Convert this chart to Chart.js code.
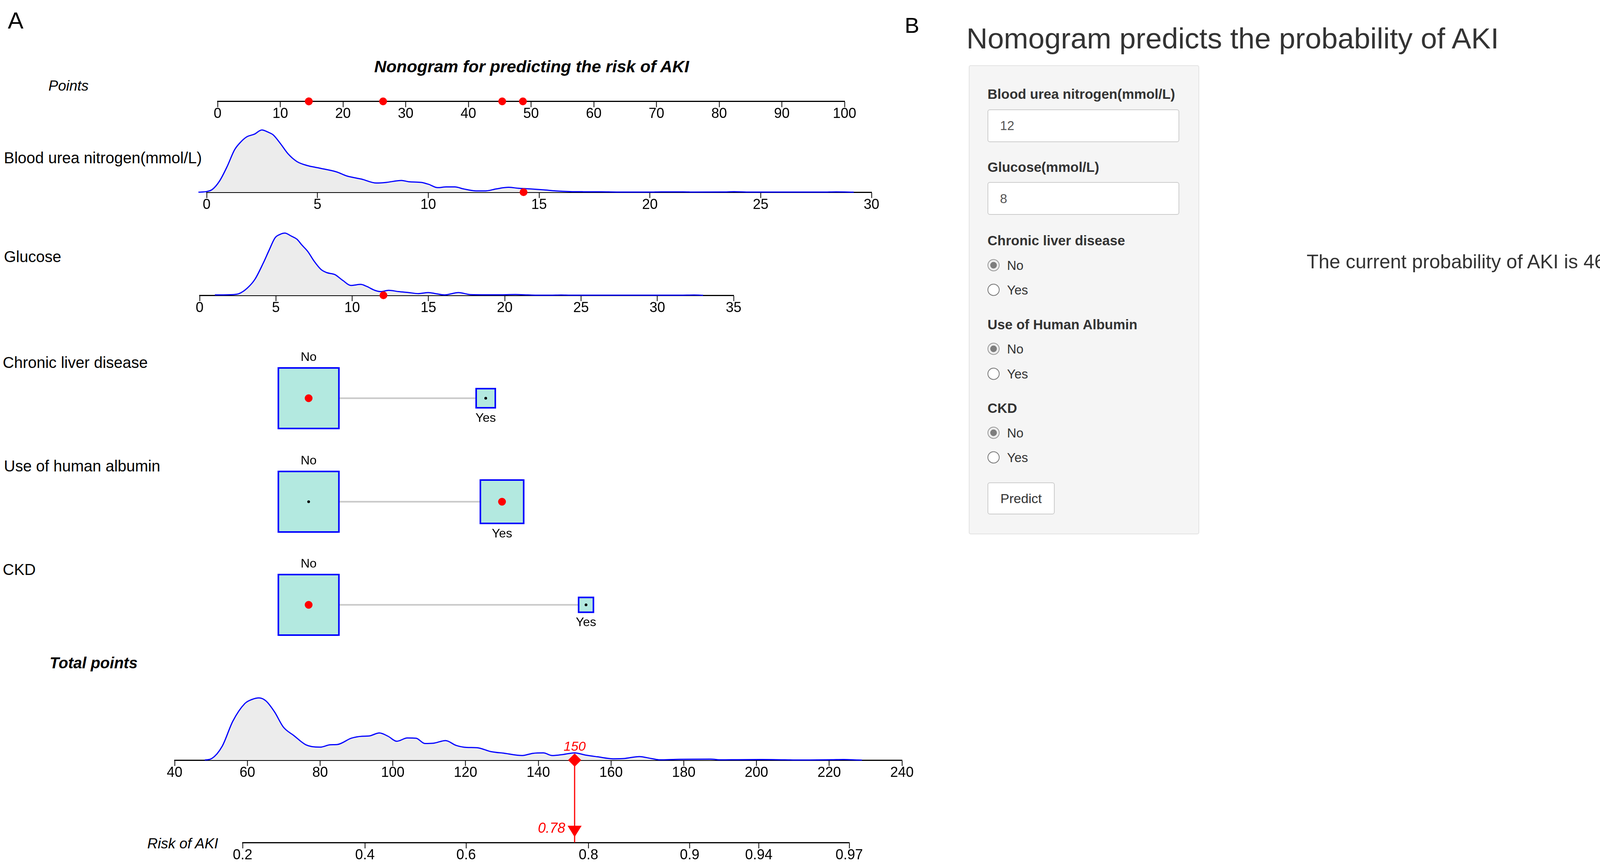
<!DOCTYPE html>
<html>
<head>
<meta charset="utf-8">
<title>Nomogram for AKI</title>
<script src="https://cdn.jsdelivr.net/npm/chart.js@4.4.1/dist/chart.umd.min.js"></script>
<style>
  html, body { margin: 0; padding: 0; background: #fff; }
  #stage { position: relative; width: 4212px; height: 2212px; overflow: hidden; font-family: 'Liberation Sans', Arial, sans-serif; }
  #stage canvas { position: absolute; }
  .t { position: absolute; white-space: nowrap; line-height: 1; transform: translateY(-50%); color: #000; }
  .i { font-style: italic; }
  .b { font-weight: bold; }
  .g { color: #333; }
  #well { position: absolute; left: 2480px; top: 167px; width: 586px; height: 1197px; background: #f5f5f5;
          border: 2px solid #e3e3e3; border-radius: 5px; }
  .inp { position: absolute; left: 2528px; width: 487px; height: 80px; background: #fff; border: 2px solid #ccc; border-radius: 6px; }
  .radio { position: absolute; left: 2528px; width: 27px; height: 27px; border: 2px solid #777; border-radius: 50%;
           background: #fff; transform: translateY(-50%); }
  .radio.on { border-color: #999; background: #eee; }
  .radio.on::after { content: ''; position: absolute; left: 5px; top: 5px; width: 17px; height: 17px; border-radius: 50%; background: #7d7d7d; }
  #btn { position: absolute; left: 2528px; top: 1235px; width: 168px; height: 78px; background: #fff; border: 2px solid #ccc;
         border-radius: 6px; font-size: 34px; color: #333; line-height: 78px; text-align: center; }
</style>
</head>
<body>
<div id="stage">
  <!-- panel A text -->
  <div class="t" style="left:20px;top:53px;font-size:60px">A</div>
  <div class="t i b" style="left:1361px;top:170px;font-size:43px;transform:translate(-50%,-50%)">Nonogram for predicting the risk of AKI</div>
  <div class="t i" style="left:124px;top:219px;font-size:37px">Points</div>
  <div class="t" style="left:10px;top:404px;font-size:40px">Blood urea nitrogen(mmol/L)</div>
  <div class="t" style="left:10px;top:657px;font-size:40px">Glucose</div>
  <div class="t" style="left:7px;top:928px;font-size:40px">Chronic liver disease</div>
  <div class="t" style="left:10px;top:1193px;font-size:40px">Use of human albumin</div>
  <div class="t" style="left:7px;top:1458px;font-size:40px">CKD</div>
  <div class="t i b" style="left:127px;top:1697px;font-size:40px">Total points</div>
  <div class="t i" style="left:377px;top:2159px;font-size:37px">Risk of AKI</div>

  <!-- panel B: the prediction form -->
  <div class="t" style="left:2316px;top:65px;font-size:56px">B</div>
  <div class="t g" style="left:2474px;top:98px;font-size:75px">Nomogram predicts the probability of AKI</div>
  <div id="well"></div>
  <div class="t g b" style="left:2528px;top:240px;font-size:35px">Blood urea nitrogen(mmol/L)</div>
  <div class="inp" style="top:280px"></div>
  <div class="t" style="left:2560px;top:321px;font-size:33px;color:#555">12</div>
  <div class="t g b" style="left:2528px;top:427px;font-size:35px">Glucose(mmol/L)</div>
  <div class="inp" style="top:466px"></div>
  <div class="t" style="left:2560px;top:508px;font-size:33px;color:#555">8</div>
  <div class="t g b" style="left:2528px;top:615px;font-size:35px">Chronic liver disease</div>
  <div class="radio on" style="top:679px"></div><div class="t g" style="left:2578px;top:679px;font-size:33px">No</div>
  <div class="radio" style="top:742px"></div><div class="t g" style="left:2578px;top:742px;font-size:33px">Yes</div>
  <div class="t g b" style="left:2528px;top:830px;font-size:35px">Use of Human Albumin</div>
  <div class="radio on" style="top:893px"></div><div class="t g" style="left:2578px;top:893px;font-size:33px">No</div>
  <div class="radio" style="top:957px"></div><div class="t g" style="left:2578px;top:957px;font-size:33px">Yes</div>
  <div class="t g b" style="left:2528px;top:1044px;font-size:35px">CKD</div>
  <div class="radio on" style="top:1108px"></div><div class="t g" style="left:2578px;top:1108px;font-size:33px">No</div>
  <div class="radio" style="top:1171px"></div><div class="t g" style="left:2578px;top:1171px;font-size:33px">Yes</div>
  <div id="btn">Predict</div>
  <div class="t g" style="left:3345px;top:670px;font-size:50px">The current probability of AKI is 46.1%</div>
</div>

<script>
const FONT = "'Liberation Sans', Arial, sans-serif";
const RED = '#ff0000', BLUE = '#0000ff', FILL = '#ececec', TEAL = '#b3e9e0';

// ---------- data ----------
const pointTicks = [0, 10, 20, 30, 40, 50, 60, 70, 80, 90, 100];
const selPoints = [48.7, 26.4, 14.55, 45.4, 14.55];   // points of each chosen value

const bunTicks = [0, 5, 10, 15, 20, 25, 30];
const bunX = [-0.37, 0, 0.25, 0.58, 0.92, 1.26, 1.54, 1.82, 2.16, 2.49, 2.78, 3.0, 3.34, 3.67, 4.07, 4.52, 5.08, 5.87,
  6.31, 6.99, 7.66, 8.11, 8.79, 9.12, 9.69, 10.02, 10.42, 10.81, 11.2, 11.6, 12.16, 12.6, 13.06, 13.62, 14.07, 14.63,
  15.2, 15.75, 16.4, 17.0, 17.8, 18.5, 20.0, 20.5, 21.5, 22.0, 23.3, 23.8, 24.5, 27.8, 28.4, 29.2];
const bunDens = [0, 0.01, 0.042, 0.178, 0.409, 0.681, 0.807, 0.891, 0.933, 1.0, 0.964, 0.922, 0.776, 0.618, 0.493, 0.43,
  0.388, 0.325, 0.262, 0.21, 0.147, 0.157, 0.189, 0.168, 0.157, 0.126, 0.073, 0.084, 0.084, 0.052, 0.021, 0.021, 0.052,
  0.078, 0.063, 0.052, 0.038, 0.021, 0.01, 0.007, 0.006, 0.002, 0.001, 0.005, 0.005, 0.001, 0.003, 0.008, 0.001, 0.001,
  0.005, 0];
const bunValue = 14.3;

const gluTicks = [0, 5, 10, 15, 20, 25, 30, 35];
const gluX = [1.0, 2.2, 2.59, 3.11, 3.63, 4.16, 4.55, 4.94, 5.27, 5.59, 5.99, 6.38, 6.71, 7.1, 7.49, 7.95, 8.34, 8.86,
  9.39, 9.91, 10.56, 10.95, 11.48, 11.87, 12.39, 13.05, 13.7, 14.35, 15.0, 15.46, 16.05, 16.97, 17.75, 18.8, 19.5, 20.7,
  21.5, 22.0, 23.0, 23.7, 24.3, 31.5, 32.4, 33.0];
const gluDens = [0.006, 0.011, 0.027, 0.112, 0.259, 0.512, 0.722, 0.922, 0.979, 1.0, 0.954, 0.901, 0.806, 0.701, 0.554,
  0.417, 0.364, 0.333, 0.238, 0.158, 0.175, 0.143, 0.08, 0.059, 0.08, 0.059, 0.044, 0.027, 0.044, 0.027, 0.006, 0.044,
  0.011, 0.008, 0.008, 0.012, 0.006, 0.002, 0.001, 0.004, 0.001, 0.001, 0.004, 0];
const gluValue = 12.05;

const levels = ['No', 'Yes'];
const cldPoints = [14.55, 42.8], cldShare = [0.90, 0.10], cldSel = 0;
const albPoints = [14.55, 45.4], albShare = [0.657, 0.343], albSel = 1;
const ckdPoints = [14.55, 58.8], ckdShare = [0.935, 0.065], ckdSel = 0;

const totalTicks = [40, 60, 80, 100, 120, 140, 160, 180, 200, 220, 240];
const totalX = [48.3, 50.2, 53.1, 56.0, 59.3, 61.2, 63.2, 65.1, 67.5, 69.9, 72.8, 76.1, 80.0, 82.8, 84.8, 88.6, 91.5,
  93.4, 96.3, 98.7, 101.1, 104.0, 106.4, 108.8, 111.2, 114.5, 117.4, 120.3, 123.1, 127.0, 130.8, 135.6, 138.5, 141.4,
  143.8, 147.1, 150.0, 152.9, 156.3, 160.6, 163.5, 167.8, 171.1, 173.5, 177.8, 187.4, 190.3, 194.9, 201.3, 207.8, 212.0,
  220.6, 223.9, 227.9, 229.0];
const totalDens = [0, 0.025, 0.225, 0.625, 0.909, 0.973, 1.0, 0.952, 0.773, 0.531, 0.394, 0.246, 0.208, 0.246, 0.251,
  0.352, 0.383, 0.387, 0.436, 0.383, 0.303, 0.356, 0.352, 0.267, 0.272, 0.314, 0.236, 0.204, 0.2, 0.137, 0.109, 0.074,
  0.109, 0.116, 0.074, 0.093, 0.116, 0.082, 0.053, 0.021, 0.025, 0.057, 0.025, 0.004, 0.011, 0.015, 0.004, 0.007, 0.009,
  0.004, 0.001, 0.006, 0.01, 0.002, 0];
const totalScore = 150;

const riskTicks = [0.2, 0.4, 0.6, 0.8, 0.9, 0.94, 0.97];
const riskIntercept = -3.096, riskSlope = 0.02914;   // logit(risk) = a + b * total points

// ---------- layout (pixels) ----------
const LAY = {
  points: { left: 557, right: 2162, axisY: 254, h: 30 },
  bun:    { left: 529, right: 2231, axisY: 492, h: 180 },
  glu:    { left: 511, right: 1878, axisY: 756, h: 180 },
  cat:    { rows: [1020, 1285, 1549], h: 270 },
  total:  { left: 447, right: 2309, axisY: 1946, h: 180 },
  risk:   { axisY: 2157 }
};
const DENS_MAX = 1.13, BOX_SIDE = 159, BOX_BORDER = 4;

const tpAt = r => (Math.log(r / (1 - r)) - riskIntercept) / riskSlope;
const riskAt = tp => 1 / (1 + Math.exp(-(riskIntercept + riskSlope * tp)));

// text and arrow heads placed through the chart scales
const annot = {
  id: 'annot',
  afterDatasetsDraw(chart, args, opts) {
    const ctx = chart.ctx, xs = chart.scales.x, ys = chart.scales.y;
    (opts.items || []).forEach(it => {
      const px = xs.getPixelForValue(it.x) + (it.dx || 0);
      const py = ys.getPixelForValue(it.y) + (it.dy || 0);
      ctx.save();
      ctx.fillStyle = it.color || '#000';
      if (it.arrow) {
        ctx.beginPath();
        ctx.moveTo(px - it.arrow.w / 2, py - it.arrow.h);
        ctx.lineTo(px + it.arrow.w / 2, py - it.arrow.h);
        ctx.lineTo(px, py);
        ctx.closePath();
        ctx.fill();
      } else {
        ctx.font = it.font;
        ctx.textAlign = it.align || 'center';
        ctx.textBaseline = 'middle';
        ctx.fillText(it.text, px, py);
      }
      ctx.restore();
    });
  }
};
Chart.register(annot);

function axis(min, max, tickVals, labels) {
  return {
    type: 'linear', min: min, max: max,
    afterBuildTicks: s => { s.ticks = tickVals.map(v => ({ value: v })); },
    grid: { display: true, drawOnChartArea: false, drawTicks: true, tickLength: 15, tickWidth: 2, tickColor: '#000' },
    border: { display: true, color: '#000', width: 3 },
    ticks: { color: '#000', padding: 0, autoSkip: false, maxRotation: 0,
      font: { family: FONT, size: 36, lineHeight: 1 },
      callback: (v, i) => labels ? String(labels[i]) : String(v) }
  };
}

function baseOptions(scales, items) {
  return {
    responsive: false, animation: false, devicePixelRatio: 1, events: [],
    layout: { padding: { left: 60, right: 60, top: 0, bottom: 6 } },
    scales: scales,
    plugins: { legend: { display: false }, tooltip: { enabled: false }, annot: { items: items || [] } }
  };
}

function dots(values, r, color) {
  return { type: 'scatter', data: values.map(v => ({ x: v, y: 0 })), pointRadius: r,
    backgroundColor: color, pointBackgroundColor: color, pointBorderWidth: 0, borderWidth: 0, clip: false };
}

function densityLine(xs, ys) {
  return { type: 'line', data: xs.map((x, i) => ({ x: x, y: ys[i] })), borderColor: BLUE, borderWidth: 3,
    backgroundColor: FILL, fill: 'origin', pointRadius: 0, cubicInterpolationMode: 'monotone', clip: false };
}

// mount a chart so that its chart area covers exactly [left,right] x [top,bottom]
function mount(w, h, makeConfig) {
  const c = document.createElement('canvas');
  c.width = w; c.height = h;
  document.getElementById('stage').appendChild(c);
  return { canvas: c, chart: new Chart(c, makeConfig()) };
}
function place(left, right, top, bottom, makeConfig) {
  const probe = mount(1000, 600, makeConfig);
  const a = probe.chart.chartArea;
  const inL = a.left, inR = 1000 - a.right, inT = a.top, inB = 600 - a.bottom;
  probe.chart.destroy();
  probe.canvas.remove();
  const m = mount(Math.round(right - left + inL + inR), Math.round(bottom - top + inT + inB), makeConfig);
  m.canvas.style.left = (left - inL) + 'px';
  m.canvas.style.top = (top - inT) + 'px';
  return m.chart;
}

// Points axis
place(LAY.points.left, LAY.points.right, LAY.points.axisY - LAY.points.h, LAY.points.axisY, () => ({
  type: 'line',
  data: { datasets: [dots(selPoints, 10, RED)] },
  options: baseOptions({ x: axis(0, 100, pointTicks), y: { display: false, min: 0, max: 1 } })
}));

// Continuous predictors with their densities
function densityRow(lay, xs, ys, ticks, marker) {
  place(lay.left, lay.right, lay.axisY - lay.h, lay.axisY, () => ({
    type: 'line',
    data: { datasets: [dots([marker], 10, RED), densityLine(xs, ys)] },
    options: baseOptions({ x: axis(ticks[0], ticks[ticks.length - 1], ticks), y: { display: false, min: 0, max: DENS_MAX } })
  }));
}
densityRow(LAY.bun, bunX, bunDens, bunTicks, bunValue);
densityRow(LAY.glu, gluX, gluDens, gluTicks, gluValue);

// Categorical predictors: boxes sized by frequency
function catRow(centerY, pts, share, sel) {
  const maxShare = Math.max.apply(null, share);
  const sides = share.map(s => BOX_SIDE * Math.sqrt(s / maxShare));
  const radii = sides.map(s => (s - BOX_BORDER) / 2 / Math.SQRT1_2);
  const others = pts.filter((p, i) => i !== sel);
  const items = levels.map((lv, i) => ({ x: pts[i], y: 0, text: lv, font: '32px ' + FONT,
    dy: i === 0 ? -(sides[i] / 2 + 25) : (sides[i] / 2 + 25) }));
  const half = LAY.cat.h / 2;
  place(LAY.points.left, LAY.points.right, centerY - half, centerY + half, () => {
    const o = baseOptions({ x: { type: 'linear', display: false, min: 0, max: 100 }, y: { display: false, min: -1, max: 1 } }, items);
    o.layout.padding = 0;
    return {
      type: 'scatter',
      data: { datasets: [
        dots([pts[sel]], 10, RED),
        dots(others, 3.5, '#000'),
        { data: pts.map(p => ({ x: p, y: 0 })), pointStyle: 'rect', pointRadius: radii,
          pointBackgroundColor: TEAL, backgroundColor: TEAL, pointBorderColor: BLUE, borderColor: BLUE,
          pointBorderWidth: BOX_BORDER, clip: false },
        { type: 'line', data: [{ x: pts[0], y: 0 }, { x: pts[pts.length - 1], y: 0 }], borderColor: '#c8c8c8',
          borderWidth: 4, pointRadius: 0, clip: false }
      ] },
      options: o
    };
  });
}
catRow(LAY.cat.rows[0], cldPoints, cldShare, cldSel);
catRow(LAY.cat.rows[1], albPoints, albShare, albSel);
catRow(LAY.cat.rows[2], ckdPoints, ckdShare, ckdSel);

// Total points
place(LAY.total.left, LAY.total.right, LAY.total.axisY - LAY.total.h, LAY.total.axisY, () => ({
  type: 'line',
  data: { datasets: [
    { type: 'scatter', data: [{ x: totalScore, y: 0 }], pointStyle: 'rectRot', pointRadius: 17,
      backgroundColor: RED, pointBackgroundColor: RED, pointBorderWidth: 0, clip: false },
    densityLine(totalX, totalDens)
  ] },
  options: baseOptions({ x: axis(40, 240, totalTicks), y: { display: false, min: 0, max: DENS_MAX } },
    [{ x: totalScore, y: 0, dy: -33, text: String(totalScore), color: RED, font: 'italic 34px ' + FONT }])
}));

// Risk axis, same total-points mapping as the axis above
const tpPx = tp => LAY.total.left + (tp - 40) / 200 * (LAY.total.right - LAY.total.left);
const riskMin = tpAt(riskTicks[0]), riskMax = tpAt(riskTicks[riskTicks.length - 1]);
place(tpPx(riskMin), tpPx(riskMax), LAY.total.axisY, LAY.risk.axisY, () => ({
  type: 'line',
  data: { datasets: [
    { type: 'line', data: [{ x: totalScore, y: 1 }, { x: totalScore, y: 0 }], borderColor: RED, borderWidth: 3,
      pointRadius: 0, clip: false }
  ] },
  options: baseOptions({ x: axis(riskMin, riskMax, riskTicks.map(tpAt), riskTicks), y: { display: false, min: 0, max: 1 } },
    [{ x: totalScore, y: 0, dy: -14, arrow: { w: 36, h: 29 }, color: RED },
     { x: totalScore, y: 0, dx: -24, dy: -35, align: 'right', text: riskAt(totalScore).toFixed(2), color: RED,
       font: 'italic 36px ' + FONT }])
}));
</script>
</body>
</html>
